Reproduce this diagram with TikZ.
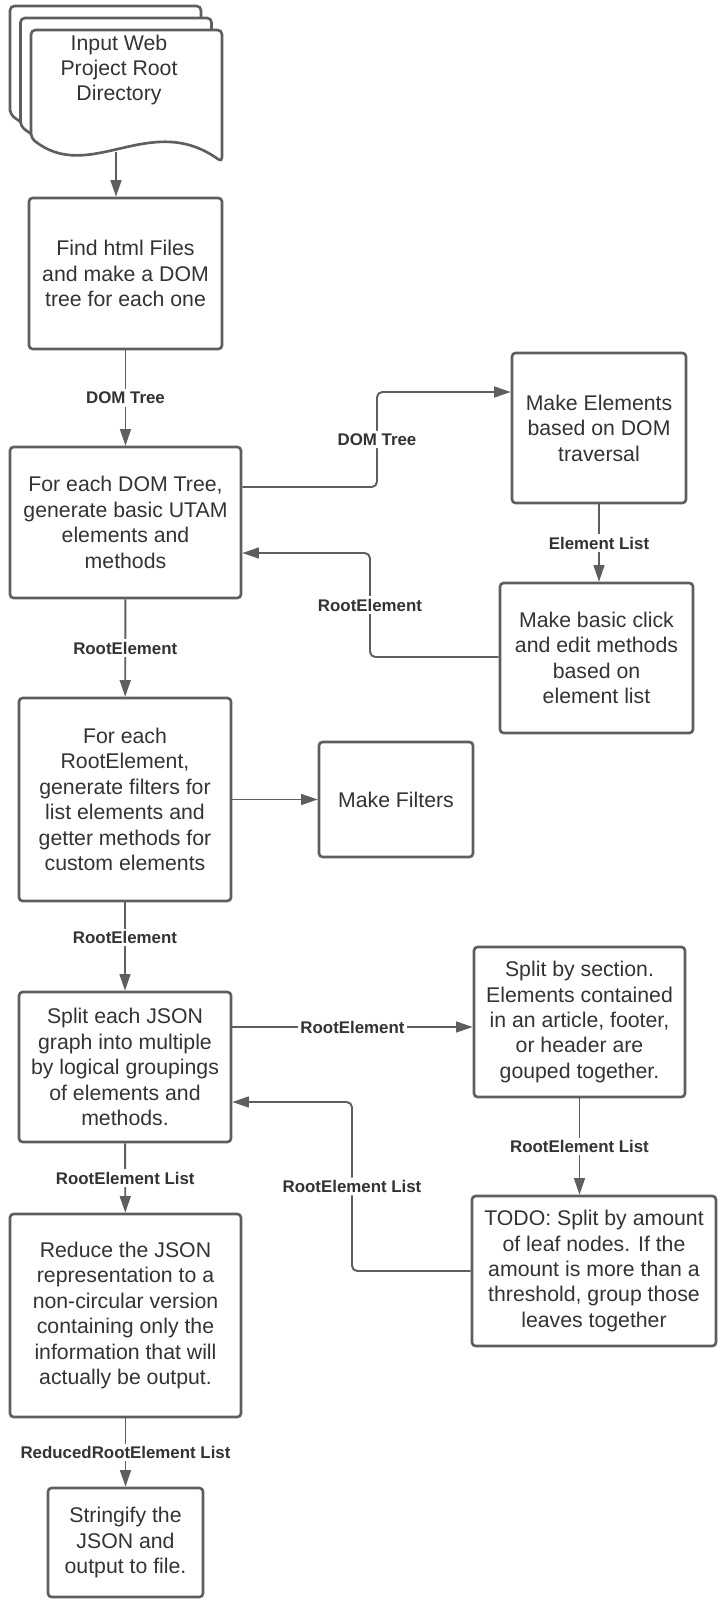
\documentclass[tikz,border=0pt]{standalone}
\usepackage{fontspec}
\setmainfont{Liberation Sans}
\usetikzlibrary{arrows.meta}
\definecolor{edgec}{HTML}{5E5E5E}
\definecolor{textc}{HTML}{333333}

\begin{document}
\begin{tikzpicture}[x=0.02cm, y=-0.02cm, font=\fontsize{12.1}{14.5}\selectfont, text=textc,
  box/.style={rectangle, draw=edgec, line width=1.5pt, rounded corners=2pt, fill=white, align=center, inner sep=2pt},
  docpage/.style={draw=edgec, line width=1.5pt, fill=white, rounded corners=2.5pt},
  flow/.style={draw=edgec, line width=1.1pt, -{Triangle[length=9.5pt, width=6.2pt]}},
  flowlabel/.style={font=\fontsize{9.6}{11}\selectfont\bfseries, fill=white, inner sep=1.5pt, text=textc}
]
  \useasboundingbox (0,0) rectangle (718,1602);
  % stack of input pages
  \draw[docpage, shift={(-21,-24)}] (31,138) -- (31,30) -- (222,30) -- (222,162) .. controls (150,110) and (90,185) .. (31,138) -- cycle;
  \draw[docpage, shift={(-10.5,-12)}] (31,138) -- (31,30) -- (222,30) -- (222,162) .. controls (150,110) and (90,185) .. (31,138) -- cycle;
  \draw[docpage] (31,138) -- (31,30) -- (222,30) -- (222,162) .. controls (150,110) and (90,185) .. (31,138) -- cycle;
  \node[align=center] (input) at (119,70) {Input Web\\Project Root\\Directory};
  \coordinate (docout) at (116,152);

  % main column
  \node[box, minimum width=3.86cm, minimum height=3.02cm] (find)    at (125.5,273.5) {Find html Files\\and make a DOM\\tree for each one};
  \node[box, minimum width=4.62cm, minimum height=3.02cm] (foreach) at (125.5,522.5) {For each DOM Tree,\\generate basic UTAM\\elements and\\methods};
  \node[box, minimum width=4.24cm, minimum height=4.06cm] (forroot) at (125,799.5)   {For each\\RootElement,\\generate filters for\\list elements and\\getter methods for\\custom elements};
  \node[box, minimum width=4.24cm, minimum height=3.00cm] (split)   at (125,1067)    {Split each JSON\\graph into multiple\\by logical groupings\\of elements and\\methods.};
  \node[box, minimum width=4.62cm, minimum height=4.06cm] (reduce)  at (125.5,1315.5) {Reduce the JSON\\representation to a\\non-circular version\\containing only the\\information that will\\actually be output.};
  \node[box, minimum width=3.10cm, minimum height=2.18cm] (strfy)   at (125.5,1542.5) {Stringify the\\JSON and\\output to file.};

  % side steps
  \node[box, minimum width=3.48cm, minimum height=3.00cm] (mkelem)  at (599,428)     {Make Elements\\based on DOM\\traversal};
  \node[box, minimum width=3.86cm, minimum height=3.00cm] (mkmeth)  at (596.5,658)   {Make basic click\\and edit methods\\based on\\element list};
  \node[box, minimum width=3.08cm, minimum height=2.30cm] (filters) at (396,799.5)   {Make Filters};
  \node[box, minimum width=4.22cm, minimum height=3.00cm] (section) at (579.5,1022)  {Split by section.\\Elements contained\\in an article, footer,\\or header are\\gouped together.};
  \node[box, minimum width=4.88cm, minimum height=3.00cm] (todo)    at (594,1271)    {TODO: Split by amount\\of leaf nodes. If the\\amount is more than a\\threshold, group those\\leaves together};

  % connectors
  \draw[flow] (docout) -- (docout |- find.north);
  \draw[flow] (find) -- node[flowlabel] {DOM Tree} (foreach);
  \draw[flow] (foreach) -- node[flowlabel] {RootElement} (forroot);
  \draw[flow] (forroot) -- node[flowlabel, pos=0.4] {RootElement} (split);
  \draw[flow] (split) -- node[flowlabel] {RootElement List} (reduce);
  \draw[flow] (reduce) -- node[flowlabel] {ReducedRootElement List} (strfy);
  \draw[flow] (forroot) -- (filters);
  \draw[flow, rounded corners=3pt] (foreach.east |- 0,487) -- (377,487) -- node[flowlabel] {DOM Tree} (377,392) -- (mkelem.west |- 0,392);
  \draw[flow] (mkelem) -- node[flowlabel] {Element List} (mkelem |- mkmeth.north);
  \draw[flow, rounded corners=3pt] (mkmeth.west |- 0,657) -- (370,657) -- node[flowlabel] {RootElement} (370,553) -- (foreach.east |- 0,553);
  \draw[flow] (split.east |- 0,1027) -- node[flowlabel] {RootElement} (section.west |- 0,1027);
  \draw[flow] (section) -- node[flowlabel] {RootElement List} (section |- todo.north);
  \draw[flow, rounded corners=3pt] (todo.west) -- (352,1271) -- node[flowlabel] {RootElement List} (352,1102) -- (split.east |- 0,1102);
\end{tikzpicture}
\end{document}
